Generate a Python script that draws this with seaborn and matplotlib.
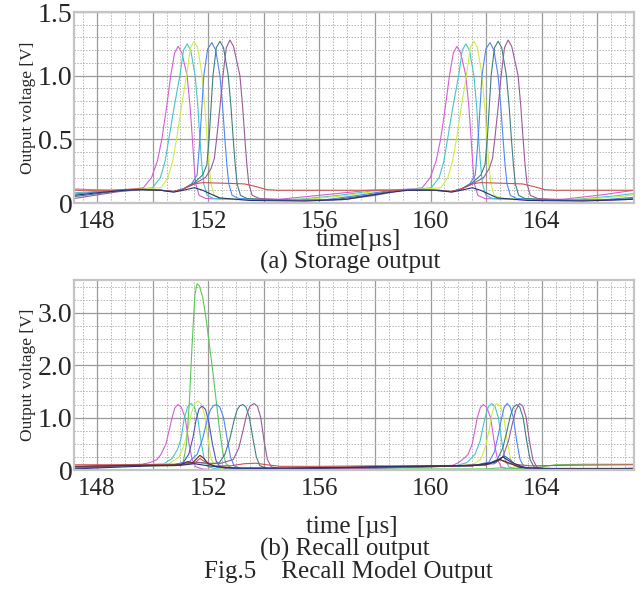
import numpy as np
import pandas as pd
import seaborn as sns
import matplotlib
matplotlib.use("Agg")
import matplotlib.pyplot as plt

# ---- data (time in us, voltage in V) ----
trace_colors = {
    "magenta": "#d45fd4", "cyan": "#45c6c6", "yellow": "#ccee44", "green": "#58c858",
    "indigo": "#5050c8", "blue": "#4f86f7", "teal": "#3f7f7f", "purple": "#9a5a9a",
    "red": "#d05050", "darkred": "#602a2a", "navy": "#223377",
}

# (a) storage output
a_magenta_t = [147.17, 147.8, 148.6, 149.3, 149.67, 149.96, 150.17, 150.33, 150.5, 150.65, 150.79, 150.92, 151.05, 151.24, 151.35, 151.43, 151.49, 151.55, 151.67, 151.92, 153.5, 154.6, 156.2, 157.8, 158.8, 159.4, 159.7, 159.99, 160.2, 160.36, 160.53, 160.68, 160.82, 160.95, 161.08, 161.27, 161.38, 161.46, 161.52, 161.58, 161.7, 161.95, 163.5, 164.8, 166.2, 167.32]
a_magenta_v = [0.11, 0.105, 0.1, 0.11, 0.12, 0.2, 0.33, 0.5, 0.75, 1.0, 1.18, 1.23, 1.18, 1.0, 0.75, 0.5, 0.3, 0.15, 0.06, 0.035, 0.025, 0.03, 0.065, 0.1, 0.105, 0.11, 0.12, 0.2, 0.33, 0.5, 0.75, 1.0, 1.18, 1.23, 1.18, 1.0, 0.75, 0.5, 0.3, 0.15, 0.06, 0.035, 0.025, 0.03, 0.065, 0.1]

a_cyan_t = [147.17, 147.9, 148.8, 149.6, 150.0, 150.28, 150.45, 150.58, 150.77, 150.98, 151.11, 151.24, 151.37, 151.53, 151.63, 151.7, 151.77, 151.84, 151.96, 152.2, 154.0, 155.3, 156.7, 158.1, 159.0, 159.6, 160.03, 160.31, 160.48, 160.61, 160.8, 161.01, 161.14, 161.27, 161.4, 161.56, 161.66, 161.73, 161.8, 161.87, 161.99, 162.23, 164.0, 165.3, 166.6, 167.32]
a_cyan_v = [0.08, 0.09, 0.1, 0.11, 0.12, 0.2, 0.33, 0.5, 0.75, 1.0, 1.2, 1.25, 1.2, 1.0, 0.75, 0.5, 0.3, 0.15, 0.06, 0.035, 0.025, 0.03, 0.06, 0.1, 0.105, 0.11, 0.12, 0.2, 0.33, 0.5, 0.75, 1.0, 1.2, 1.25, 1.2, 1.0, 0.75, 0.5, 0.3, 0.15, 0.06, 0.035, 0.025, 0.03, 0.055, 0.075]

a_yellow_t = [147.17, 147.9, 148.8, 149.6, 150.3, 150.55, 150.72, 150.86, 151.03, 151.22, 151.36, 151.49, 151.62, 151.78, 151.88, 151.96, 152.03, 152.1, 152.22, 152.5, 154.3, 155.6, 157.0, 158.3, 159.2, 159.8, 160.37, 160.62, 160.79, 160.93, 161.1, 161.29, 161.43, 161.56, 161.69, 161.85, 161.95, 162.03, 162.1, 162.17, 162.29, 162.57, 164.3, 165.6, 166.8, 167.32]
a_yellow_v = [0.1, 0.1, 0.105, 0.11, 0.12, 0.2, 0.33, 0.5, 0.75, 1.0, 1.22, 1.27, 1.22, 1.0, 0.75, 0.5, 0.3, 0.15, 0.06, 0.035, 0.025, 0.03, 0.06, 0.1, 0.105, 0.11, 0.12, 0.2, 0.33, 0.5, 0.75, 1.0, 1.22, 1.27, 1.22, 1.0, 0.75, 0.5, 0.3, 0.15, 0.06, 0.035, 0.025, 0.03, 0.05, 0.065]

a_blue_t = [147.17, 147.9, 148.8, 149.6, 150.3, 150.75, 151.1, 151.4, 151.6, 151.7, 151.77, 151.84, 151.98, 152.13, 152.27, 152.42, 152.52, 152.6, 152.67, 152.74, 152.86, 153.1, 154.8, 156.2, 157.4, 158.6, 159.4, 160.1, 160.75, 161.11, 161.41, 161.61, 161.71, 161.78, 161.85, 161.99, 162.14, 162.28, 162.43, 162.53, 162.61, 162.68, 162.75, 162.87, 163.1, 164.8, 166.2, 167.32]
a_blue_v = [0.07, 0.085, 0.1, 0.105, 0.1, 0.09, 0.11, 0.15, 0.22, 0.5, 0.75, 1.0, 1.21, 1.26, 1.2, 1.0, 0.75, 0.5, 0.3, 0.15, 0.06, 0.035, 0.02, 0.025, 0.06, 0.1, 0.105, 0.1, 0.09, 0.11, 0.15, 0.22, 0.5, 0.75, 1.0, 1.21, 1.26, 1.2, 1.0, 0.75, 0.5, 0.3, 0.15, 0.06, 0.035, 0.02, 0.025, 0.045]

a_teal_t = [147.17, 147.9, 148.8, 149.6, 150.3, 150.75, 151.1, 151.5, 151.8, 151.95, 152.03, 152.1, 152.17, 152.29, 152.42, 152.55, 152.72, 152.82, 152.9, 152.97, 153.04, 153.16, 153.4, 155.0, 156.5, 157.7, 158.8, 159.5, 160.1, 160.75, 161.11, 161.51, 161.81, 161.96, 162.04, 162.11, 162.18, 162.3, 162.43, 162.56, 162.73, 162.83, 162.91, 162.98, 163.05, 163.17, 163.4, 165.0, 166.5, 167.32]
a_teal_v = [0.05, 0.07, 0.095, 0.105, 0.1, 0.09, 0.11, 0.16, 0.22, 0.3, 0.5, 0.75, 1.0, 1.22, 1.27, 1.22, 1.0, 0.75, 0.5, 0.3, 0.15, 0.06, 0.035, 0.02, 0.025, 0.06, 0.1, 0.105, 0.1, 0.09, 0.11, 0.16, 0.22, 0.3, 0.5, 0.75, 1.0, 1.22, 1.27, 1.22, 1.0, 0.75, 0.5, 0.3, 0.15, 0.06, 0.035, 0.02, 0.025, 0.035]

a_purple_t = [147.17, 147.9, 148.8, 149.6, 150.3, 150.75, 151.1, 151.5, 151.9, 152.1, 152.22, 152.3, 152.42, 152.53, 152.65, 152.78, 152.91, 153.14, 153.24, 153.32, 153.39, 153.46, 153.58, 153.85, 155.3, 156.8, 158.0, 159.0, 159.6, 160.1, 160.75, 161.11, 161.51, 161.91, 162.11, 162.23, 162.31, 162.43, 162.54, 162.66, 162.79, 162.92, 163.15, 163.25, 163.33, 163.4, 163.47, 163.59, 163.86, 165.3, 166.8, 167.32]
a_purple_v = [0.035, 0.06, 0.09, 0.105, 0.1, 0.09, 0.11, 0.15, 0.2, 0.27, 0.35, 0.5, 0.75, 1.0, 1.22, 1.28, 1.23, 1.0, 0.75, 0.5, 0.3, 0.15, 0.06, 0.035, 0.02, 0.025, 0.06, 0.1, 0.105, 0.1, 0.09, 0.11, 0.15, 0.2, 0.27, 0.35, 0.5, 0.75, 1.0, 1.22, 1.28, 1.23, 1.0, 0.75, 0.5, 0.3, 0.15, 0.06, 0.035, 0.02, 0.025, 0.03]

a_red_t = [147.17, 148.5, 149.5, 150.3, 150.75, 151.1, 151.5, 151.8, 152.6, 153.3, 153.7, 154.1, 154.5, 159.5, 160.3, 160.75, 161.1, 161.5, 161.8, 162.6, 163.3, 163.7, 164.1, 164.5, 167.32]
a_red_v = [0.1, 0.1, 0.11, 0.1, 0.09, 0.11, 0.15, 0.16, 0.155, 0.15, 0.13, 0.105, 0.1, 0.1, 0.1, 0.09, 0.11, 0.15, 0.16, 0.155, 0.15, 0.13, 0.105, 0.1, 0.1]

a_navy_t = [147.17, 148.0, 149.0, 149.6, 150.3, 150.75, 151.1, 151.5, 151.8, 152.4, 153.5, 155.5, 157.0, 158.4, 159.2, 160.3, 160.75, 161.1, 161.5, 161.8, 162.4, 163.5, 165.5, 167.32]
a_navy_v = [0.06, 0.08, 0.1, 0.105, 0.1, 0.085, 0.1, 0.12, 0.1, 0.04, 0.02, 0.015, 0.03, 0.08, 0.1, 0.1, 0.085, 0.1, 0.12, 0.1, 0.04, 0.02, 0.015, 0.03]

# (b) recall output
b_magenta_t = [147.17, 148.0, 149.0, 149.6, 149.9, 150.16, 150.3, 150.48, 150.7, 150.8, 150.91, 151.03, 151.17, 151.31, 151.42, 151.55, 151.8, 152.3, 153.5, 155.0, 157.0, 158.5, 160.0, 160.8, 161.0, 161.2, 161.35, 161.5, 161.68, 161.79, 161.9, 162.02, 162.16, 162.3, 162.41, 162.54, 162.75, 163.3, 165.5, 166.5, 167.32]
b_magenta_v = [0.06, 0.08, 0.1, 0.11, 0.14, 0.2, 0.3, 0.5, 1.0, 1.19, 1.25, 1.2, 1.0, 0.5, 0.2, 0.06, 0.02, 0.0, 0.0, 0.01, 0.03, 0.05, 0.07, 0.09, 0.14, 0.22, 0.3, 0.5, 1.0, 1.19, 1.25, 1.2, 1.0, 0.5, 0.2, 0.06, 0.02, 0.0, 0.0, 0.0, 0.01]

b_cyan_t = [147.17, 148.0, 149.0, 149.8, 150.4, 150.7, 150.9, 151.02, 151.14, 151.26, 151.38, 151.5, 151.62, 151.74, 151.86, 152.0, 152.3, 154.5, 157.0, 159.5, 160.9, 161.3, 161.6, 161.78, 161.96, 162.08, 162.2, 162.32, 162.44, 162.56, 162.68, 162.82, 163.1, 165.5, 167.32]
b_cyan_v = [0.04, 0.07, 0.09, 0.1, 0.12, 0.22, 0.4, 0.6, 1.0, 1.21, 1.27, 1.21, 1.0, 0.55, 0.2, 0.06, 0.02, 0.02, 0.04, 0.06, 0.08, 0.14, 0.3, 0.55, 1.0, 1.21, 1.27, 1.21, 1.0, 0.55, 0.2, 0.06, 0.02, 0.02, 0.02]

b_yellow_t = [147.17, 148.0, 149.0, 149.8, 150.6, 150.95, 151.15, 151.3, 151.4, 151.51, 151.63, 151.75, 151.87, 151.99, 152.1, 152.24, 152.6, 155.0, 158.0, 160.5, 161.5, 161.8, 161.98, 162.12, 162.2, 162.29, 162.4, 162.52, 162.64, 162.76, 162.88, 163.02, 163.4, 165.5, 167.32]
b_yellow_v = [0.05, 0.07, 0.09, 0.1, 0.12, 0.25, 0.5, 0.85, 1.1, 1.27, 1.32, 1.26, 1.05, 0.6, 0.22, 0.06, 0.02, 0.03, 0.05, 0.07, 0.1, 0.2, 0.45, 0.8, 1.05, 1.22, 1.27, 1.21, 1.0, 0.55, 0.2, 0.06, 0.02, 0.02, 0.03]

b_green_t = [147.17, 148.0, 149.0, 150.0, 150.8, 151.1, 151.22, 151.32, 151.42, 151.52, 151.6, 151.68, 151.8, 151.92, 152.04, 152.16, 152.28, 152.4, 152.52, 152.64, 152.8, 153.0, 155.0, 157.5, 160.0, 162.0, 162.5, 163.0, 163.5, 164.5, 165.5, 167.32]
b_green_v = [0.03, 0.05, 0.07, 0.08, 0.08, 0.15, 0.5, 1.3, 2.4, 3.35, 3.56, 3.52, 3.3, 2.9, 2.4, 1.9, 1.35, 0.8, 0.35, 0.12, 0.05, 0.03, 0.03, 0.02, 0.02, 0.02, 0.04, 0.03, 0.02, 0.1, 0.11, 0.11]

b_indigo_t = [147.17, 148.0, 149.0, 150.0, 150.8, 151.1, 151.3, 151.45, 151.56, 151.67, 151.78, 151.9, 152.02, 152.15, 152.28, 152.42, 152.7, 153.5, 156.0, 158.5, 161.0, 162.0, 162.4, 162.65, 162.85, 163.1, 163.6, 165.5, 167.32]
b_indigo_v = [0.05, 0.07, 0.09, 0.1, 0.11, 0.14, 0.3, 0.62, 0.95, 1.17, 1.22, 1.16, 0.92, 0.5, 0.18, 0.06, 0.02, 0.02, 0.04, 0.06, 0.08, 0.1, 0.18, 0.27, 0.2, 0.08, 0.02, 0.02, 0.03]

b_blue_t = [147.17, 148.0, 149.0, 150.0, 150.8, 151.3, 151.6, 151.8, 151.96, 152.08, 152.19, 152.3, 152.42, 152.55, 152.68, 152.8, 152.93, 153.2, 156.0, 159.0, 161.5, 162.1, 162.3, 162.45, 162.56, 162.65, 162.75, 162.86, 162.98, 163.1, 163.22, 163.36, 163.7, 166.0, 167.32]
b_blue_v = [0.03, 0.06, 0.09, 0.1, 0.1, 0.15, 0.3, 0.6, 0.95, 1.15, 1.23, 1.25, 1.2, 1.0, 0.6, 0.25, 0.08, 0.02, 0.03, 0.06, 0.08, 0.15, 0.35, 0.7, 1.0, 1.2, 1.27, 1.21, 1.0, 0.55, 0.2, 0.06, 0.02, 0.02, 0.03]

b_teal_t = [147.17, 148.0, 149.0, 150.0, 151.0, 151.6, 152.1, 152.4, 152.6, 152.78, 152.93, 153.04, 153.14, 153.25, 153.36, 153.48, 153.61, 153.73, 153.86, 154.2, 157.0, 160.0, 162.0, 162.4, 162.6, 162.75, 162.88, 162.98, 163.1, 163.21, 163.33, 163.46, 163.58, 163.72, 164.0, 166.0, 167.32]
b_teal_v = [0.04, 0.06, 0.09, 0.1, 0.1, 0.15, 0.12, 0.14, 0.3, 0.6, 0.95, 1.15, 1.23, 1.25, 1.2, 1.0, 0.6, 0.25, 0.08, 0.02, 0.03, 0.06, 0.1, 0.2, 0.42, 0.75, 1.05, 1.2, 1.25, 1.2, 1.0, 0.55, 0.2, 0.06, 0.02, 0.02, 0.03]

b_purple_t = [147.17, 148.0, 149.0, 150.0, 151.0, 151.6, 152.4, 152.9, 153.1, 153.25, 153.38, 153.5, 153.65, 153.77, 153.89, 154.01, 154.13, 154.27, 154.6, 157.5, 160.5, 162.3, 162.6, 162.8, 162.95, 163.07, 163.2, 163.32, 163.44, 163.56, 163.68, 163.82, 164.1, 167.32]
b_purple_v = [0.05, 0.07, 0.09, 0.1, 0.1, 0.14, 0.12, 0.2, 0.42, 0.75, 1.05, 1.22, 1.27, 1.22, 1.0, 0.55, 0.2, 0.06, 0.02, 0.03, 0.07, 0.12, 0.25, 0.55, 0.9, 1.15, 1.27, 1.22, 1.0, 0.55, 0.2, 0.06, 0.02, 0.02]

b_red_t = [147.17, 148.5, 149.5, 150.5, 151.0, 151.3, 151.5, 151.7, 151.9, 152.2, 152.8, 153.3, 153.7, 154.1, 154.6, 156.0, 158.0, 160.0, 161.5, 162.1, 162.5, 162.8, 163.2, 163.6, 165.0, 167.32]
b_red_v = [0.1, 0.1, 0.1, 0.1, 0.1, 0.15, 0.13, 0.22, 0.15, 0.08, 0.08, 0.12, 0.13, 0.1, 0.07, 0.07, 0.08, 0.08, 0.08, 0.12, 0.2, 0.12, 0.1, 0.08, 0.09, 0.1]

b_darkred_t = [147.17, 148.5, 149.5, 150.5, 151.0, 151.25, 151.45, 151.55, 151.7, 151.85, 152.0, 152.3, 153.0, 155.0, 158.0, 160.5, 162.0, 162.5, 162.8, 163.2, 164.0, 167.32]
b_darkred_v = [0.07, 0.08, 0.09, 0.09, 0.1, 0.16, 0.14, 0.2, 0.28, 0.22, 0.12, 0.06, 0.04, 0.04, 0.06, 0.07, 0.1, 0.2, 0.14, 0.05, 0.03, 0.03]

b_navy_t = [147.17, 148.5, 150.0, 151.0, 151.5, 152.0, 153.0, 156.0, 158.0, 160.0, 161.5, 162.3, 162.6, 162.9, 163.4, 165.0, 167.32]
b_navy_v = [0.02, 0.05, 0.08, 0.09, 0.12, 0.08, 0.03, 0.03, 0.06, 0.08, 0.08, 0.15, 0.25, 0.15, 0.04, 0.02, 0.02]

panel_a = {
    "magenta": (a_magenta_t, a_magenta_v), "cyan": (a_cyan_t, a_cyan_v),
    "yellow": (a_yellow_t, a_yellow_v), "blue": (a_blue_t, a_blue_v),
    "teal": (a_teal_t, a_teal_v), "purple": (a_purple_t, a_purple_v),
    "red": (a_red_t, a_red_v), "navy": (a_navy_t, a_navy_v),
}
panel_b = {
    "magenta": (b_magenta_t, b_magenta_v), "cyan": (b_cyan_t, b_cyan_v),
    "yellow": (b_yellow_t, b_yellow_v), "green": (b_green_t, b_green_v),
    "indigo": (b_indigo_t, b_indigo_v), "blue": (b_blue_t, b_blue_v),
    "teal": (b_teal_t, b_teal_v), "purple": (b_purple_t, b_purple_v),
    "red": (b_red_t, b_red_v), "darkred": (b_darkred_t, b_darkred_v),
    "navy": (b_navy_t, b_navy_v),
}

x_ticks = [148, 150, 152, 154, 156, 158, 160, 162, 164, 166]
x_ticklabels = ["148", "", "152", "", "156", "", "160", "", "164", ""]
a_yticks = [0, 0.5, 1.0, 1.5]
a_yticklabels = ["0", "0.5", "1.0", "1.5"]
b_yticks = [0, 1.0, 2.0, 3.0]
b_yticklabels = ["0", "1.0", "2.0", "3.0"]


def to_long(panel):
    rows = []
    for name, (t, v) in panel.items():
        rows.append(pd.DataFrame({"trace": name, "t": t, "v": v}))
    return pd.concat(rows, ignore_index=True)


sns.set_style("white")
plt.rcParams["font.family"] = ["Liberation Serif", "DejaVu Serif"]

W, H = 643, 592
fig = plt.figure(figsize=(W / 100, H / 100), dpi=100)
ax_a = fig.add_axes([74 / W, 1 - 203 / H, 560 / W, 191 / H])
ax_b = fig.add_axes([74 / W, 1 - 470 / H, 560 / W, 190 / H])


def style_axes(ax, yticks, yticklabels, ymax, yminor):
    ax.set_xlim(147.17, 167.32)
    ax.set_ylim(0, ymax)
    ax.set_xticks(x_ticks)
    ax.set_xticklabels(x_ticklabels)
    ax.set_xticks(np.arange(147.5, 167.3, 0.5), minor=True)
    ax.set_yticks(yticks)
    ax.set_yticklabels(yticklabels)
    ax.set_yticks(np.arange(0, ymax, yminor), minor=True)
    ax.grid(which="minor", color="#b4b4b4", lw=0.7, ls=(0, (1.5, 1.5)))
    ax.grid(which="major", color="#9a9a9a", lw=0.9, ls="-")
    ax.set_axisbelow(True)
    for s in ax.spines.values():
        s.set_color("#c4c4c4")
        s.set_linewidth(1.6)
    ax.tick_params(which="both", length=0)
    ax.tick_params(axis="x", labelsize=18, pad=6)
    ax.tick_params(axis="y", labelsize=20, pad=1)
    ax.set_xlabel("")
    ax.set_ylabel("Output voltage [V]", fontsize=12.5)
    ax.yaxis.set_label_coords(-0.068, 0.5)


for ax, panel in [(ax_a, panel_a), (ax_b, panel_b)]:
    df = to_long(panel)
    sns.lineplot(data=df, x="t", y="v", hue="trace", hue_order=list(panel),
                 palette=trace_colors, estimator=None, sort=False,
                 legend=False, linewidth=0.8, ax=ax)

style_axes(ax_a, a_yticks, a_yticklabels, 1.5, 0.1)
style_axes(ax_b, b_yticks, b_yticklabels, 3.63, 0.25)

fig.text(358 / W, 1 - 240 / H, "time[µs]", ha="center", va="center", fontsize=18)
fig.text(350 / W, 1 - 262 / H, "(a) Storage output", ha="center", va="center", fontsize=18)
fig.text(352 / W, 1 - 527 / H, "time [µs]", ha="center", va="center", fontsize=18)
fig.text(345 / W, 1 - 549 / H, "(b) Recall output", ha="center", va="center", fontsize=18)
fig.text(348 / W, 1 - 572 / H, "Fig.5    Recall Model Output", ha="center", va="center", fontsize=18)

fig.savefig("out.png", dpi=100)
